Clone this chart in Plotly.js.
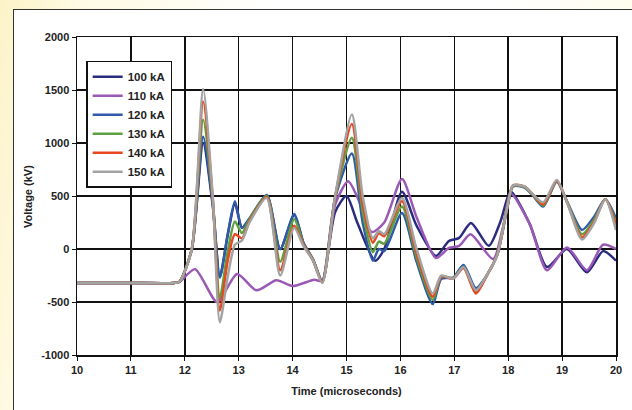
<!DOCTYPE html>
<html>
<head>
<meta charset="utf-8">
<script src="https://cdn.plot.ly/plotly-3.0.1.min.js"></script>
<style>
  html, body { margin:0; padding:0; width:632px; height:410px; overflow:hidden; }
  body { background: linear-gradient(100deg, #fcf3c8 0%, #fffae4 12%, #ffffff 40%, #ffffff 70%, #fffbe4 100%); position:relative; }
  #frame { position:absolute; left:13px; top:9px; width:640px; height:420px; background:#ffffff; border-left:1.5px solid #333; border-top:1.5px solid #333; }
  #chart { position:absolute; left:0; top:0; width:632px; height:410px; }
</style>
</head>
<body>
<div id="frame"></div>
<div id="chart"></div>
<script>
// Series names
const seriesNames = ["100 kA", "110 kA", "120 kA", "130 kA", "140 kA", "150 kA"];

// Axis ticks
const xTickVals = [10, 11, 12, 13, 14, 15, 16, 17, 18, 19, 20];
const xTickText = ["10", "11", "12", "13", "14", "15", "16", "17", "18", "19", "20"];
const yTickVals = [-1000, -500, 0, 500, 1000, 1500, 2000];
const yTickText = ["-1000", "-500", "0", "500", "1000", "1500", "2000"];

// Time grid shared by 120-150 kA series (microseconds)
const tGroup = [10, 11.0, 11.8, 11.9, 12.13, 12.34, 12.52, 12.65, 12.8, 12.93, 13.06, 13.2, 13.52, 13.77, 14.03, 14.2, 14.38, 14.55, 14.79, 15.1, 15.3, 15.49, 15.6, 15.7, 16.03, 16.3, 16.6, 16.76, 16.98, 17.17, 17.4, 17.6, 17.8, 17.98, 18.09, 18.3, 18.45, 18.65, 18.9, 19.1, 19.37, 19.6, 19.8, 20];
const v120 = [-320, -320, -320, -310, 0, 1060, 420, -270, 150, 450, 200, 290, 510, 0, 330, 60, -100, -300, 480, 900, 250, -110, 0, -20, 340, -120, -520, -280, -270, -150, -370, -250, -50, 380, 590, 580, 510, 400, 635, 440, 180, 310, 470, 290];
const v130 = [-320, -320, -320, -310, 0, 1220, 450, -460, -10, 260, 150, 280, 500, -120, 280, 50, -105, -310, 490, 1050, 350, -30, 70, 50, 400, -80, -480, -260, -275, -170, -400, -250, -50, 385, 595, 585, 515, 410, 640, 435, 140, 280, 470, 250];
const v140 = [-320, -320, -320, -310, 0, 1390, 470, -580, -100, 140, 100, 260, 490, -200, 220, 40, -110, -315, 495, 1180, 430, 60, 150, 120, 450, -40, -450, -260, -280, -180, -420, -255, -50, 390, 600, 590, 520, 420, 645, 430, 110, 260, 470, 220];
const v150 = [-320, -320, -320, -310, 0, 1510, 480, -690, -250, 40, 80, 250, 480, -250, 200, 30, -110, -320, 500, 1270, 500, 100, 170, 140, 480, 0, -420, -250, -280, -170, -390, -250, -50, 390, 600, 590, 520, 440, 650, 430, 90, 250, 470, 180];

// 100 kA series
const t100 = [10, 11.0, 11.8, 11.9, 12.13, 12.34, 12.52, 12.65, 12.8, 12.93, 13.06, 13.2, 13.52, 13.77, 14.03, 14.2, 14.38, 14.55, 14.79, 15.0, 15.2, 15.53, 15.7, 16.03, 16.3, 16.66, 16.9, 17.09, 17.31, 17.64, 17.85, 18.05, 18.4, 18.72, 19.09, 19.46, 19.76, 20];
const v100 = [-320, -320, -320, -310, 0, 1000, 400, -260, 140, 430, 200, 280, 500, 0, 320, 60, -100, -310, 350, 500, 250, -110, 0, 540, 220, -65, 75, 105, 245, 30, 250, 540, 235, -170, 0, -220, -20, -110];

// 110 kA series
const t110 = [10, 11.0, 11.8, 11.9, 12.19, 12.6, 12.97, 13.33, 13.7, 14.0, 14.4, 14.55, 14.79, 15.03, 15.21, 15.47, 15.7, 16.03, 16.3, 16.66, 16.9, 17.09, 17.3, 17.72, 17.9, 18.05, 18.4, 18.72, 19.09, 19.46, 19.76, 20];
const v110 = [-320, -320, -320, -310, -190, -500, -235, -390, -295, -350, -290, -300, 420, 640, 480, 160, 250, 660, 300, -85, 10, 30, 140, -95, 200, 520, 235, -200, 15, -200, 40, 0];

const colors = ["#2a2c7e", "#9b59b6", "#2f5ba8", "#5fa040", "#e8461e", "#a3a3a3"];
const xs = [t100, t110, tGroup, tGroup, tGroup, tGroup];
const ys = [v100, v110, v120, v130, v140, v150];

const traces = seriesNames.map((name, i) => ({
  x: xs[i], y: ys[i], name: name, type: "scatter", mode: "lines",
  line: { color: colors[i], width: 2.5, shape: "spline", smoothing: 0.7 }
}));

const fam = "Liberation Sans, Arial, sans-serif";
const tickFont = { family: fam, size: 11, color: "#222", weight: "bold" };

const layout = {
  width: 632, height: 410,
  margin: { l: 77, r: 16, t: 37, b: 55 },
  paper_bgcolor: "rgba(0,0,0,0)",
  plot_bgcolor: "#ffffff",
  showlegend: true,
  legend: {
    x: 0.017, y: 0.925, xanchor: "left", yanchor: "top",
    bgcolor: "#ffffff", bordercolor: "#111", borderwidth: 1.5,
    font: { family: fam, size: 11.5, color: "#222", weight: "bold" },
    tracegroupgap: 0
  },
  xaxis: {
    range: [10, 20], tickmode: "array", tickvals: xTickVals, ticktext: xTickText,
    showgrid: true, gridcolor: "#111", gridwidth: 1.5,
    showline: true, linecolor: "#111", linewidth: 1.5, mirror: true,
    ticks: "outside", ticklen: 4, tickcolor: "#111",
    zeroline: false, tickfont: tickFont,
    title: { text: "Time (microseconds)", font: { family: fam, size: 11, color: "#222", weight: "bold" }, standoff: 12 }
  },
  yaxis: {
    range: [-1000, 2000], tickmode: "array", tickvals: yTickVals, ticktext: yTickText,
    showgrid: true, gridcolor: "#111", gridwidth: 1.5,
    showline: true, linecolor: "#111", linewidth: 1.5, mirror: true,
    ticks: "outside", ticklen: 4, tickcolor: "#111",
    zeroline: false, tickfont: tickFont
  },
  annotations: [{
    text: "Voltage (kV)", textangle: -90, showarrow: false,
    xref: "paper", yref: "paper", x: -0.091, y: 0.5, xanchor: "center", yanchor: "middle",
    font: { family: fam, size: 11, color: "#222", weight: "bold" }
  }]
};

Plotly.newPlot("chart", traces, layout, { staticPlot: true, displayModeBar: false });
</script>
</body>
</html>
